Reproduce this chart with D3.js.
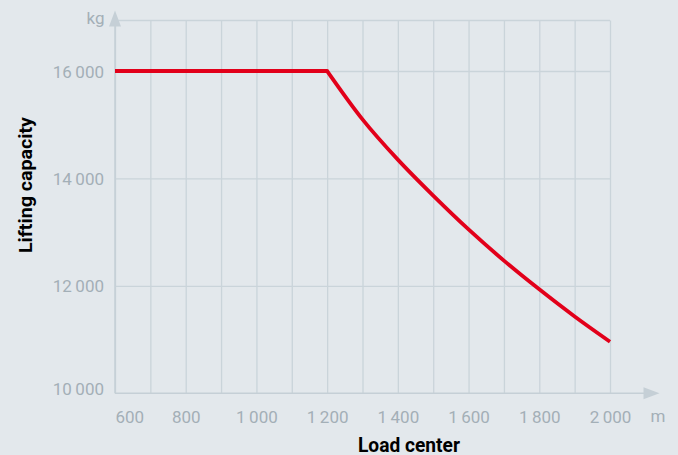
<!DOCTYPE html>
<html>
<head>
<meta charset="utf-8">
<script src="https://cdn.jsdelivr.net/npm/d3@7"></script>
<style>
  html, body { margin: 0; padding: 0; background: #e3e8ec; }
  svg { display: block; }
  text { font-family: Roboto, "Noto Sans", sans-serif; }
</style>
</head>
<body>
<svg id="chart" width="678" height="455"></svg>
<script>
// ---- data ----
const loadCenters = [600, 700, 800, 900, 1000, 1100, 1200, 1300, 1400, 1500, 1600, 1700, 1800, 1900, 2000];
const capacities  = [16000, 16000, 16000, 16000, 16000, 16000, 16000, 15100, 14350, 13680, 13050, 12470, 11935, 11430, 10960];
const xTickValues = [600, 700, 800, 900, 1000, 1100, 1200, 1300, 1400, 1500, 1600, 1700, 1800, 1900, 2000];
const xLabelValues = [600, 800, 1000, 1200, 1400, 1600, 1800, 2000];
const yTickValues = [10000, 12000, 14000, 16000];
const xTitle = "Load center";
const yTitle = "Lifting capacity";
const xUnit = "m";
const yUnit = "kg";

// ---- layout ----
const W = 678, H = 455;
const mLeft = 115, mRight = 610, mTop = 20.5, mBottom = 393.3;
const bg = "#e3e8ec", grid = "#cad4da", axisCol = "#c5cfd6", tickCol = "#a3afb7", red = "#e2001a";

const svg = d3.select("#chart");
svg.append("rect").attr("width", W).attr("height", H).attr("fill", bg);

const x = d3.scaleLinear().domain([600, 2000]).range([mLeft, mRight]);
const y = d3.scaleLinear().domain([10000, 16000]).range([mBottom, 71]);

const fmt = d3.formatLocale({decimal: ".", thousands: "\u2009", grouping: [3], currency: ["", ""]}).format(",");

// vertical gridlines via axis
const gx = svg.append("g").attr("transform", `translate(0,${mBottom})`)
  .call(d3.axisBottom(x).tickValues(xTickValues).tickSize(-(mBottom - mTop)).tickFormat(""));
gx.select(".domain").remove();
gx.selectAll(".tick line").attr("stroke", grid).attr("stroke-width", 1.3);

// horizontal gridlines via axis
const gy = svg.append("g").attr("transform", `translate(${mLeft},0)`)
  .call(d3.axisLeft(y).tickValues(yTickValues.filter(v => v !== 10000)).tickSize(-(mRight - mLeft)).tickFormat(""));
gy.select(".domain").remove();
gy.selectAll(".tick line").attr("stroke", grid).attr("stroke-width", 1.3);

// top border
svg.append("line").attr("x1", mLeft).attr("x2", mRight).attr("y1", mTop).attr("y2", mTop)
  .attr("stroke", grid).attr("stroke-width", 1.5);

// axes lines with arrows
svg.append("line").attr("x1", mLeft).attr("x2", 644).attr("y1", mBottom).attr("y2", mBottom)
  .attr("stroke", axisCol).attr("stroke-width", 1.5);
svg.append("line").attr("x1", mLeft).attr("x2", mLeft).attr("y1", mBottom).attr("y2", 20)
  .attr("stroke", axisCol).attr("stroke-width", 1.5);
svg.append("path").attr("d", `M643.5,${mBottom - 6}L659.5,${mBottom}L643.5,${mBottom + 6}Z`).attr("fill", axisCol);
svg.append("path").attr("d", `M${mLeft - 6},26.5L${mLeft},10.5L${mLeft + 6},26.5Z`).attr("fill", axisCol);

// x tick labels
const xl = svg.append("g").attr("transform", `translate(0,${mBottom})`)
  .call(d3.axisBottom(x).tickValues(xLabelValues).tickSize(0).tickPadding(0).tickFormat(fmt));
xl.select(".domain").remove();
xl.selectAll(".tick text")
  .attr("y", 29.5).attr("dy", 0)
  .attr("fill", tickCol).attr("font-size", 17)
  .attr("font-family", "Roboto, sans-serif")
  .attr("text-anchor", d => d === 600 ? "start" : "middle");

// y tick labels
const yl = svg.append("g").attr("transform", `translate(${mLeft},0)`)
  .call(d3.axisLeft(y).tickValues(yTickValues).tickSize(0).tickPadding(0).tickFormat(fmt));
yl.select(".domain").remove();
yl.selectAll(".tick text")
  .attr("x", -11).attr("dy", d => d === 10000 ? "0.06em" : "0.36em")
  .attr("fill", tickCol).attr("font-size", 17)
  .attr("font-family", "Roboto, sans-serif");

// units
svg.append("text").attr("x", 104.5).attr("y", 24).attr("text-anchor", "end")
  .attr("fill", tickCol).attr("font-size", 17).text(yUnit);
svg.append("text").attr("x", 658).attr("y", 422).attr("text-anchor", "middle")
  .attr("fill", tickCol).attr("font-size", 17).text(xUnit);

// titles
svg.append("text").attr("x", 358).attr("y", 451.5)
  .attr("font-size", 19.5).attr("font-weight", 700).attr("fill", "#000")
  .attr("textLength", 102).attr("lengthAdjust", "spacingAndGlyphs").text(xTitle);
svg.append("text").attr("transform", "translate(32,253) rotate(-90)")
  .attr("font-size", 19).attr("font-weight", 700).attr("fill", "#000")
  .attr("textLength", 136).attr("lengthAdjust", "spacingAndGlyphs").text(yTitle);

// data line: flat part (linear) + falling part (smooth)
const pts = loadCenters.map((c, i) => [c, capacities[i]]);
const flatEnd = capacities.lastIndexOf(16000);
const linear = d3.line().x(d => x(d[0])).y(d => y(d[1]));
const smooth = d3.line().x(d => x(d[0])).y(d => y(d[1])).curve(d3.curveMonotoneX);
svg.append("path").attr("d", linear(pts.slice(0, flatEnd + 1)))
  .attr("fill", "none").attr("stroke", red).attr("stroke-width", 3.8).attr("stroke-linecap", "butt");
svg.append("path").attr("d", smooth(pts.slice(flatEnd)))
  .attr("fill", "none").attr("stroke", red).attr("stroke-width", 3.8).attr("stroke-linecap", "butt");
// join point cover
svg.append("circle").attr("cx", x(loadCenters[flatEnd])).attr("cy", y(capacities[flatEnd]))
  .attr("r", 1.9).attr("fill", red);
</script>
</body>
</html>
